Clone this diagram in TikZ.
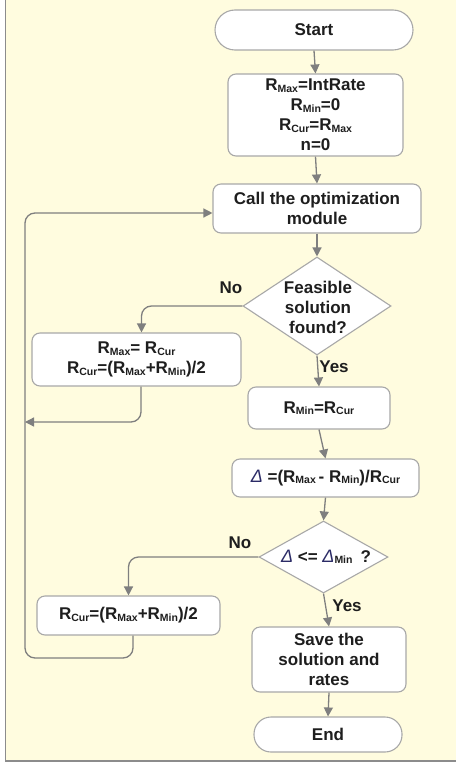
\documentclass[tikz,border=0pt]{standalone}
\usepackage{fontspec}
\setmainfont{Liberation Sans}
\usetikzlibrary{shapes.geometric,arrows.meta}
\definecolor{bgy}{HTML}{FFFCDF}
\definecolor{edgec}{HTML}{A8A8A8}
\definecolor{lnc}{HTML}{7F7F7F}
\definecolor{txt}{HTML}{1E1E1E}
\definecolor{dcol}{HTML}{2B2B66}
\definecolor{framec}{HTML}{8C8C8C}
\newcommand{\sbs}[1]{\raisebox{-1.5pt}{\fontsize{10.5}{10.5}\selectfont #1}}
\newcommand{\dlt}{{\mdseries\itshape\color{dcol}\fontsize{18}{20}\selectfont Δ}}
\begin{document}
\begin{tikzpicture}[x=1pt,y=-1pt,
 box/.style={draw=edgec, line width=1.1pt, fill=white, rounded corners=8pt, inner sep=0pt, align=center, font=\bfseries\fontsize{17}{20}\selectfont, text=txt},
 term/.style={box, rounded corners=#1},
 dec/.style={diamond, draw=edgec, line width=1.1pt, fill=white, inner sep=0pt},
 lbl/.style={font=\bfseries\fontsize{17}{20}\selectfont, text=txt, inner sep=0pt, align=center},
 conn/.style={draw=lnc, line width=1.3pt, -{Triangle[length=9pt,width=9pt]}},
]
\useasboundingbox (0,0) rectangle (456,765);
\fill[white] (0,0) rectangle (456,765);
\fill[bgy] (5.5,0) rectangle (456,761);
\draw[framec, line width=1.4pt] (5.5,0) -- (5.5,761) -- (456,761);

% nodes
\node[term=20pt, minimum width=198pt, minimum height=40pt] (start) at (314,30) {Start};
\node[box, minimum width=175pt, minimum height=82pt] (init) at (315.5,115)
  {R\sbs{Max}=IntRate\\R\sbs{Min}=0\\R\sbs{Cur}=R\sbs{Max}\\n=0};
\node[box, minimum width=208pt, minimum height=49pt] (call) at (317,208.5)
  {Call the optimization\\module};
\node[dec, minimum width=148pt, minimum height=98pt] (d1) at (317,306) {};
\node[lbl] (d1t) at (318,307) {Feasible\\solution\\found?};
\node[box, minimum width=209pt, minimum height=53pt] (lb1) at (136.5,359.5)
  {R\sbs{Max}= R\sbs{Cur}\\R\sbs{Cur}=(R\sbs{Max}+R\sbs{Min})/2};
\node[box, minimum width=142pt, minimum height=42pt] (rmin) at (319,408) {R\sbs{Min}=R\sbs{Cur}};
\node[box, minimum width=187pt, minimum height=38pt] (delta) at (325.5,478)
  {\dlt\ =(R\sbs{Max}\,- R\sbs{Min})/R\sbs{Cur}};
\node[dec, minimum width=129pt, minimum height=72pt] (d2) at (323.5,557) {};
\node[lbl] (d2t) at (326,557) {\dlt\ <= \dlt\sbs{Min}\hspace{8pt}?};
\node[box, minimum width=183pt, minimum height=39pt] (lb2) at (128.5,615.5)
  {R\sbs{Cur}=(R\sbs{Max}+R\sbs{Min})/2};
\node[box, minimum width=154pt, minimum height=65pt] (save) at (329,659.5)
  {Save the\\solution and\\rates};
\node[term=17pt, minimum width=148pt, minimum height=35pt] (end) at (328,734.5) {End};

% labels
\node[lbl] (no1) at (231,288) {No};
\node[lbl] (yes1) at (334,367) {Yes};
\node[lbl] (no2) at (240,543) {No};
\node[lbl] (yes2) at (347,606) {Yes};

% helper coordinates
\coordinate (j1) at (25,422);
\coordinate (j2) at (25,658);

% connectors
\draw[conn] (start.south) -- (init.north);
\draw[conn] (init.south) -- (call.north);
\draw[conn] (call.south) -- (d1.north);
\draw[conn] (d1.south) -- (rmin.north);
\draw[conn] (rmin.south) -- (delta.north);
\draw[conn] (delta.south) -- (d2.north);
\draw[conn] (d2.south) -- (save.north);
\draw[conn] (save.south) -- (end.north);
\draw[conn, rounded corners=10pt] (d1.west) -| ([xshift=5pt]lb1.north);
\draw[conn, rounded corners=10pt] (d2.west) -| (lb2.north);
\draw[conn, rounded corners=10pt] ([xshift=4.5pt]lb1.south) |- (j1);
\draw[conn, rounded corners=10pt] ([xshift=4.5pt]lb2.south) |- (j2) |- ([yshift=-4.5pt]call.west);
\end{tikzpicture}
\end{document}
